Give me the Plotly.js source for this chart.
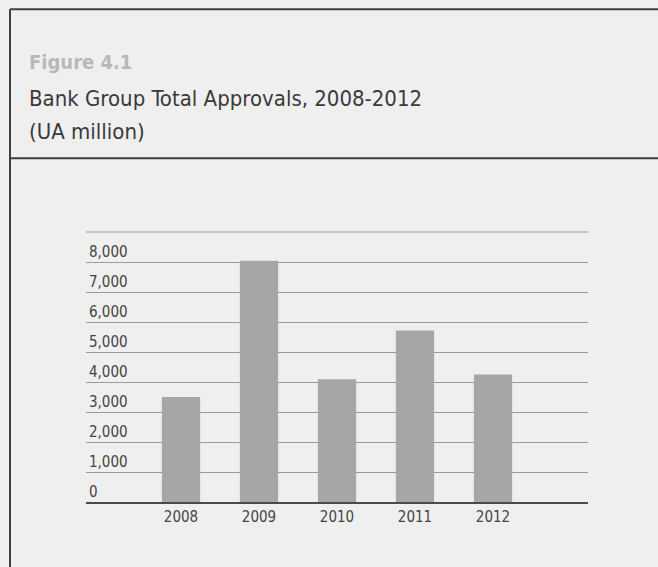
<!DOCTYPE html>
<html>
<head>
<meta charset="utf-8">
<script src="https://cdn.plot.ly/plotly-3.0.1.min.js"></script>
<style>
  html, body { margin: 0; padding: 0; background: #efefef; }
  #chart { width: 658px; height: 567px; }
</style>
</head>
<body>
<div id="chart"></div>
<script>
// Data
const years = ['2008', '2009', '2010', '2011', '2012'];
const approvals = [3500, 8040, 4090, 5720, 4250];
const yTickVals = [0, 1000, 2000, 3000, 4000, 5000, 6000, 7000, 8000, 9000];
const yTickText = ['0', '1,000', '2,000', '3,000', '4,000', '5,000', '6,000', '7,000', '8,000', ''];
const figureLabel = 'Figure 4.1';
const titleLine1 = 'Bank Group Total Approvals, 2008-2012';
const titleLine2 = '(UA million)';

const W = 658, H = 567;
const L = 86, R = 588, T = 231.7, B = 501.7;
const px = X => (X - L) / (R - L);
const py = Y => (B - Y) / (B - T);

const FONT = '"DejaVu Sans Condensed", "Liberation Sans Narrow", "Arial Narrow", sans-serif';

const trace = {
  type: 'bar',
  x: years,
  y: approvals,
  marker: { color: '#a6a6a6', line: { width: 0 } },
  hoverinfo: 'skip'
};

const frameColor = '#3f3f3f';
const layout = {
  width: W, height: H,
  margin: { l: L, r: W - R, t: T, b: H - B, pad: 0 },
  paper_bgcolor: '#efefef',
  plot_bgcolor: '#efefef',
  showlegend: false,
  bargap: 0.51,
  font: { family: FONT, color: '#444' },
  xaxis: {
    type: 'category',
    range: [-1.218, 5.218],
    showline: true, linecolor: '#4a4a4a', linewidth: 2,
    showgrid: false, zeroline: false,
    ticks: '', ticklen: 0,
    tickfont: { family: FONT, size: 15, color: '#444' },
    fixedrange: true
  },
  yaxis: {
    range: [0, 9000],
    tickmode: 'array', tickvals: yTickVals, ticktext: yTickText,
    ticklabelposition: 'inside top',
    showgrid: true, gridcolor: '#9a9a9a', gridwidth: 1,
    zeroline: false, showline: false, ticks: '',
    tickfont: { family: FONT, size: 15, color: '#444' },
    fixedrange: true
  },
  annotations: [
    { text: figureLabel, xref: 'paper', yref: 'paper', x: px(27), y: py(62),
      xanchor: 'left', yanchor: 'middle', showarrow: false,
      font: { family: FONT, size: 20, color: '#b8b8b8', weight: 'bold' } },
    { text: titleLine1, xref: 'paper', yref: 'paper', x: px(27), y: py(98),
      xanchor: 'left', yanchor: 'middle', showarrow: false,
      font: { family: FONT, size: 22, color: '#3a3a3a' } },
    { text: titleLine2, xref: 'paper', yref: 'paper', x: px(27), y: py(131),
      xanchor: 'left', yanchor: 'middle', showarrow: false,
      font: { family: FONT, size: 22, color: '#3a3a3a' } }
  ],
  shapes: [
    { type: 'line', xref: 'paper', yref: 'paper', x0: 0, x1: 1, y0: 1, y1: 1,
      line: { color: '#9a9a9a', width: 1 } },
    { type: 'line', xref: 'paper', yref: 'paper', x0: px(10), x1: px(662), y0: py(9), y1: py(9),
      line: { color: frameColor, width: 2 } },
    { type: 'line', xref: 'paper', yref: 'paper', x0: px(10), x1: px(10), y0: py(9), y1: py(570),
      line: { color: frameColor, width: 2 } },
    { type: 'line', xref: 'paper', yref: 'paper', x0: px(10), x1: px(662), y0: py(158), y1: py(158),
      line: { color: frameColor, width: 2 } }
  ]
};

Plotly.newPlot('chart', [trace], layout, { staticPlot: true, displayModeBar: false });
</script>
</body>
</html>
